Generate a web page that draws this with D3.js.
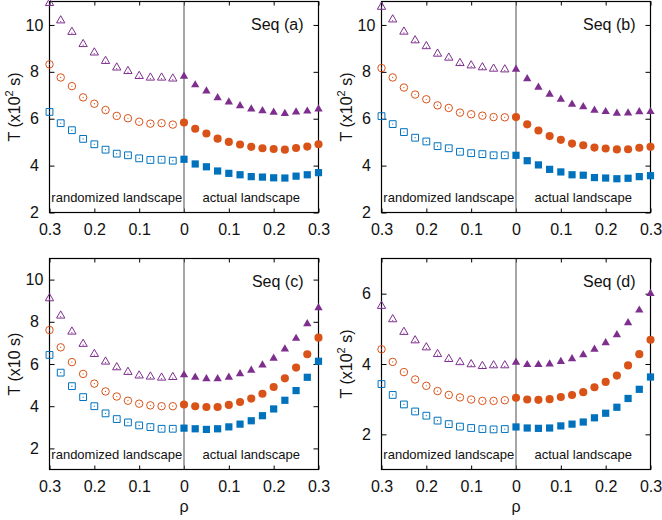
<!DOCTYPE html>
<html>
<head>
<meta charset="utf-8">
<script src="https://cdn.jsdelivr.net/npm/d3@7"></script>
<style>
  body { margin: 0; background: #fff; }
  svg { display: block; font-family: "Liberation Sans", Arial, Helvetica, sans-serif; }
</style>
</head>
<body>
<svg id="chart" width="662" height="520"></svg>
<script>
// rho values: randomized landscape (left half, read right-to-left) and actual landscape
const rhoRand = [0.3, 0.275, 0.25, 0.225, 0.2, 0.175, 0.15, 0.125, 0.1, 0.075, 0.05, 0.025];
const rhoAct = [0, 0.025, 0.05, 0.075, 0.1, 0.125, 0.15, 0.175, 0.2, 0.225, 0.25, 0.275, 0.3];

// Seq (a)
const triRandA = [10.93, 10.19, 9.70, 9.18, 8.82, 8.46, 8.18, 8.03, 7.82, 7.75, 7.75, 7.71];
const triActA = [7.81, 7.44, 7.18, 6.89, 6.71, 6.55, 6.41, 6.34, 6.27, 6.22, 6.28, 6.32, 6.41];
const cirRandA = [8.32, 7.76, 7.39, 6.91, 6.64, 6.37, 6.12, 6.02, 5.87, 5.79, 5.81, 5.75];
const cirActA = [5.84, 5.57, 5.37, 5.15, 5.01, 4.90, 4.80, 4.74, 4.71, 4.68, 4.75, 4.81, 4.91];
const sqRandA = [6.29, 5.81, 5.51, 5.14, 4.91, 4.68, 4.51, 4.44, 4.31, 4.24, 4.25, 4.21];
const sqActA = [4.27, 4.07, 3.95, 3.77, 3.67, 3.61, 3.53, 3.51, 3.48, 3.47, 3.55, 3.61, 3.70];

// Seq (b)
const triRandB = [10.77, 10.23, 9.71, 9.34, 9.09, 8.77, 8.60, 8.37, 8.27, 8.19, 8.13, 8.10];
const triActB = [8.11, 7.70, 7.34, 7.04, 6.83, 6.61, 6.51, 6.36, 6.30, 6.23, 6.24, 6.29, 6.30];
const cirRandB = [8.16, 7.76, 7.33, 7.03, 6.83, 6.57, 6.46, 6.26, 6.19, 6.13, 6.07, 6.06];
const cirActB = [6.07, 5.76, 5.50, 5.26, 5.10, 4.94, 4.87, 4.77, 4.73, 4.69, 4.70, 4.76, 4.80];
const sqRandB = [6.11, 5.77, 5.43, 5.19, 5.03, 4.83, 4.74, 4.59, 4.53, 4.49, 4.44, 4.44];
const sqActB = [4.44, 4.21, 4.03, 3.84, 3.73, 3.61, 3.59, 3.49, 3.47, 3.44, 3.46, 3.53, 3.57];

// Seq (c)
const triRandC = [9.11, 8.29, 7.53, 6.95, 6.47, 6.11, 5.84, 5.62, 5.45, 5.40, 5.35, 5.38];
const triActC = [5.48, 5.37, 5.30, 5.30, 5.37, 5.53, 5.70, 5.95, 6.27, 6.71, 7.21, 7.90, 8.66];
const cirRandC = [7.61, 6.79, 6.09, 5.53, 5.07, 4.70, 4.46, 4.26, 4.12, 4.04, 4.00, 4.00];
const cirActC = [4.08, 4.00, 3.96, 3.96, 4.06, 4.20, 4.36, 4.59, 4.91, 5.32, 5.83, 6.46, 7.25];
const sqRandC = [6.43, 5.59, 4.95, 4.43, 4.00, 3.66, 3.39, 3.23, 3.09, 3.01, 2.93, 2.93];
const sqActC = [2.96, 2.93, 2.90, 2.93, 3.02, 3.15, 3.31, 3.55, 3.87, 4.28, 4.74, 5.37, 6.13];

// Seq (d)
const triRandD = [5.65, 5.27, 4.91, 4.67, 4.47, 4.28, 4.14, 4.05, 3.99, 3.94, 3.96, 3.96];
const triActD = [4.05, 3.98, 3.98, 4.00, 4.07, 4.15, 4.26, 4.42, 4.60, 4.83, 5.17, 5.53, 6.00];
const cirRandD = [4.42, 4.06, 3.77, 3.56, 3.38, 3.23, 3.12, 3.05, 2.99, 2.95, 2.95, 2.97];
const cirActD = [3.04, 2.99, 2.98, 3.00, 3.06, 3.12, 3.20, 3.34, 3.49, 3.67, 3.96, 4.28, 4.69];
const sqRandD = [3.43, 3.12, 2.85, 2.65, 2.53, 2.39, 2.29, 2.22, 2.18, 2.15, 2.14, 2.15];
const sqActD = [2.21, 2.18, 2.17, 2.18, 2.24, 2.29, 2.35, 2.47, 2.60, 2.77, 3.02, 3.28, 3.63];

const seqLabels = ["Seq (a)", "Seq (b)", "Seq (c)", "Seq (d)"];
const yDomains = [[2, 11], [2, 11], [1, 11], [1, 7]];
const yTicks = [[2, 4, 6, 8, 10], [2, 4, 6, 8, 10], [2, 4, 6, 8, 10], [2, 4, 6]];
const yUnitSup = ["2", "2", "", "2"];
const xTicks = [-0.3, -0.2, -0.1, 0, 0.1, 0.2, 0.3];

const purple = "#7E2F8E", orange = "#D95319", blue = "#0072BD";

const svg = d3.select("#chart");

const panelBoxes = [
  { x0: 49.5, x1: 318.5, y0: 1.5, y1: 212.5 },
  { x0: 381.5, x1: 650.5, y0: 1.5, y1: 212.5 },
  { x0: 49.5, x1: 318.5, y0: 258.5, y1: 469.5 },
  { x0: 381.5, x1: 650.5, y0: 258.5, y1: 469.5 }
];

const panelSeries = [
  [[triRandA, triActA], [cirRandA, cirActA], [sqRandA, sqActA]],
  [[triRandB, triActB], [cirRandB, cirActB], [sqRandB, sqActB]],
  [[triRandC, triActC], [cirRandC, cirActC], [sqRandC, sqActC]],
  [[triRandD, triActD], [cirRandD, cirActD], [sqRandD, sqActD]]
];
const seriesStyle = [
  { color: purple, type: d3.symbolTriangle, sizeFill: 30, sizeOpen: 30 },
  { color: orange, type: d3.symbolCircle, sizeFill: 52, sizeOpen: 44 },
  { color: blue, type: d3.symbolSquare, sizeFill: 52, sizeOpen: 46 }
];

const tickFmt = d => d === 0 ? "0" : Math.abs(d).toFixed(1);

panelBoxes.forEach((b, p) => {
  const x = d3.scaleLinear().domain([-0.3, 0.3]).range([b.x0, b.x1]);
  const y = d3.scaleLinear().domain(yDomains[p]).range([b.y1, b.y0]);
  const g = svg.append("g");

  // axes (ticks inward, mirrored)
  const bottom = g.append("g").attr("transform", `translate(0,${b.y1})`)
    .call(d3.axisBottom(x).tickValues(xTicks).tickFormat(tickFmt).tickSizeInner(-4).tickSizeOuter(0).tickPadding(11));
  const top = g.append("g").attr("transform", `translate(0,${b.y0})`)
    .call(d3.axisTop(x).tickValues(xTicks).tickFormat("").tickSizeInner(-4).tickSizeOuter(0));
  const left = g.append("g").attr("transform", `translate(${b.x0},0)`)
    .call(d3.axisLeft(y).tickValues(yTicks[p]).tickFormat(d3.format("d")).tickSizeInner(-5).tickSizeOuter(0).tickPadding(8));
  const right = g.append("g").attr("transform", `translate(${b.x1},0)`)
    .call(d3.axisRight(y).tickValues(yTicks[p]).tickFormat("").tickSizeInner(-5).tickSizeOuter(0));

  [bottom, top, left, right].forEach(a => {
    a.select(".domain").remove();
    a.selectAll("line").attr("stroke", "#000").attr("stroke-width", 1);
  });
  bottom.selectAll("text").attr("font-size", 16).attr("fill", "#111")
    .attr("font-family", "Liberation Sans, Arial, sans-serif");
  left.selectAll("text").attr("font-size", 16).attr("fill", "#111")
    .attr("font-family", "Liberation Sans, Arial, sans-serif")
    .attr("text-anchor", "middle").attr("x", -15);

  // divider at rho = 0
  g.append("line")
    .attr("x1", x(0)).attr("x2", x(0)).attr("y1", b.y0).attr("y2", b.y1)
    .attr("stroke", "#777").attr("stroke-width", 1.3);

  // frame
  g.append("rect")
    .attr("x", b.x0).attr("y", b.y0).attr("width", b.x1 - b.x0).attr("height", b.y1 - b.y0)
    .attr("fill", "none").attr("stroke", "#000").attr("stroke-width", 1.2);

  // region labels
  g.append("text").attr("x", (b.x0 + x(0)) / 2).attr("y", b.y1 - 11)
    .attr("text-anchor", "middle").attr("font-size", 13).attr("fill", "#111").text("randomized landscape");
  g.append("text").attr("x", (x(0) + b.x1) / 2).attr("y", b.y1 - 11)
    .attr("text-anchor", "middle").attr("font-size", 13).attr("fill", "#111").text("actual landscape");

  // seq label
  g.append("text").attr("x", b.x1 - 15).attr("y", b.y0 + 28)
    .attr("text-anchor", "end").attr("font-size", 16).attr("fill", "#111").text(seqLabels[p]);

  // y title
  const yt = g.append("text")
    .attr("transform", `translate(${b.x0 - 35},${(b.y0 + b.y1) / 2}) rotate(-90)`)
    .attr("text-anchor", "middle").attr("dy", "0.35em").attr("font-size", 16).attr("fill", "#111");
  yt.append("tspan").text("T (x10");
  if (yUnitSup[p]) {
    yt.append("tspan").attr("font-size", 11).attr("dy", -7).text(yUnitSup[p]);
    yt.append("tspan").attr("dy", 7).text(" s)");
  } else {
    yt.append("tspan").text(" s)");
  }

  // markers
  panelSeries[p].forEach((pair, s) => {
    const st = seriesStyle[s];
    const openPts = rhoRand.map((r, i) => ({ r: -r, v: pair[0][i] }));
    const fillPts = rhoAct.map((r, i) => ({ r: r, v: pair[1][i] }));

    g.append("g").selectAll("path").data(openPts).join("path")
      .attr("d", d3.symbol().type(st.type).size(st.sizeOpen))
      .attr("transform", d => `translate(${x(d.r)},${y(d.v)})`)
      .attr("fill", "none").attr("stroke", st.color).attr("stroke-width", 1);
    g.append("g").selectAll("circle").data(openPts).join("circle")
      .attr("cx", d => x(d.r)).attr("cy", d => y(d.v) + (s === 0 ? 1 : 0)).attr("r", 0.6)
      .attr("fill", st.color);

    g.append("g").selectAll("path").data(fillPts).join("path")
      .attr("d", d3.symbol().type(st.type).size(st.sizeFill))
      .attr("transform", d => `translate(${x(d.r)},${y(d.v)})`)
      .attr("fill", st.color).attr("stroke", "none");
  });
});

// x axis titles
[0, 1].forEach(i => {
  const b = panelBoxes[2 + i];
  svg.append("text").attr("x", (b.x0 + b.x1) / 2).attr("y", 512)
    .attr("text-anchor", "middle").attr("font-size", 16).attr("fill", "#111").text("ρ");
});
</script>
</body>
</html>
